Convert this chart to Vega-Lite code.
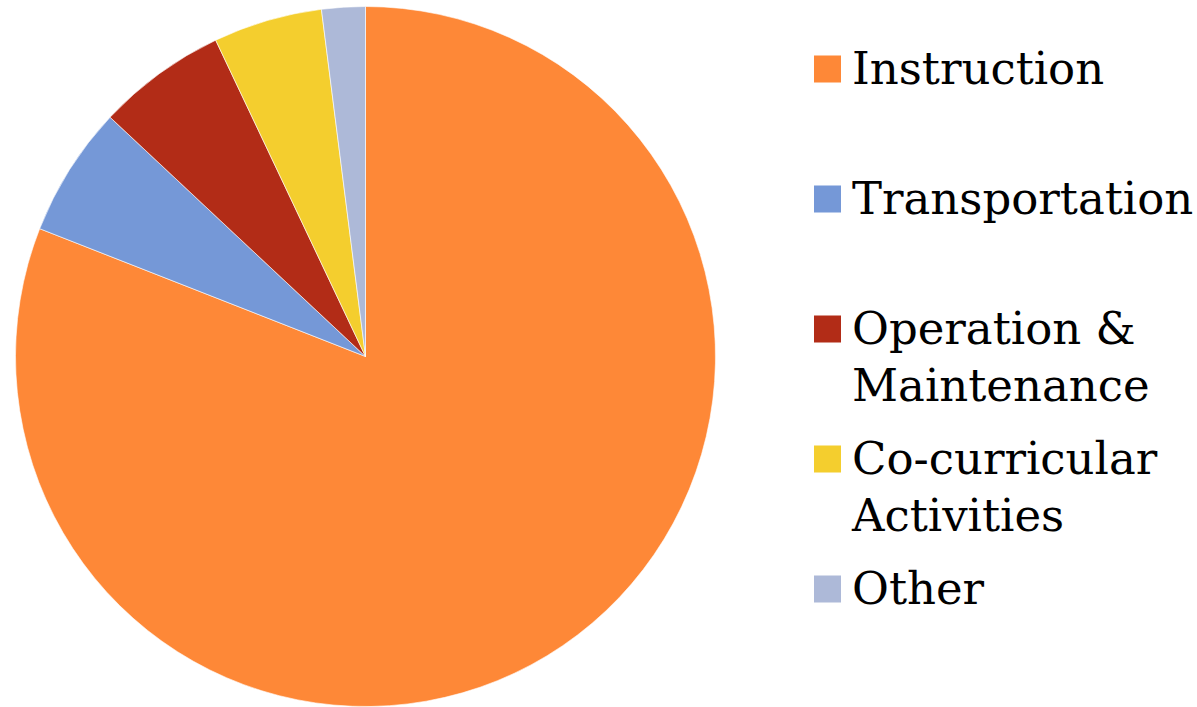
{
  "$schema": "https://vega.github.io/schema/vega-lite/v6.json",
  "width": 731,
  "height": 713,
  "padding": 0,
  "autosize": {"type": "pad"},
  "background": "white",
  "config": {"view": {"stroke": null}},
  "data": {
    "values": [
      {"category": "Instruction", "share": 80.95},
      {"category": "Transportation", "share": 6.03},
      {"category": "Operation & Maintenance", "share": 5.98},
      {"category": "Co-curricular Activities", "share": 5.03},
      {"category": "Other", "share": 2.01}
    ]
  },
  "mark": {"type": "arc", "outerRadius": 350, "stroke": "#ffffff", "strokeWidth": 0.6},
  "encoding": {
    "theta": {"field": "share", "type": "quantitative", "stack": true},
    "order": {"field": "share", "type": "quantitative", "sort": "descending"},
    "color": {
      "field": "category",
      "type": "nominal",
      "sort": ["Instruction", "Transportation", "Operation & Maintenance", "Co-curricular Activities", "Other"],
      "scale": {
        "domain": ["Instruction", "Transportation", "Operation & Maintenance", "Co-curricular Activities", "Other"],
        "range": ["#FE8837", "#7598D7", "#B22C17", "#F4CE2E", "#ADB9D8"]
      },
      "legend": {
        "title": null,
        "orient": "none",
        "legendX": 805,
        "legendY": 32,
        "padding": 0,
        "symbolType": "square",
        "symbolSize": 729,
        "symbolStrokeWidth": 0,
        "symbolOpacity": 1,
        "clipHeight": 74,
        "rowPadding": 12,
        "labelOffset": 2,
        "labelFont": "DejaVu Serif",
        "labelFontSize": 45,
        "labelColor": "#000000",
        "labelLimit": 500,
        "labelBaseline": "top",
        "labelExpr": "datum.label == 'Operation & Maintenance' ? ['Operation &', 'Maintenance'] : datum.label == 'Co-curricular Activities' ? ['Co-curricular', 'Activities'] : [datum.label, ' ']",
        "encoding": {
          "labels": {"dy": {"value": -21}, "lineHeight": {"value": 57}}
        }
      }
    }
  }
}
